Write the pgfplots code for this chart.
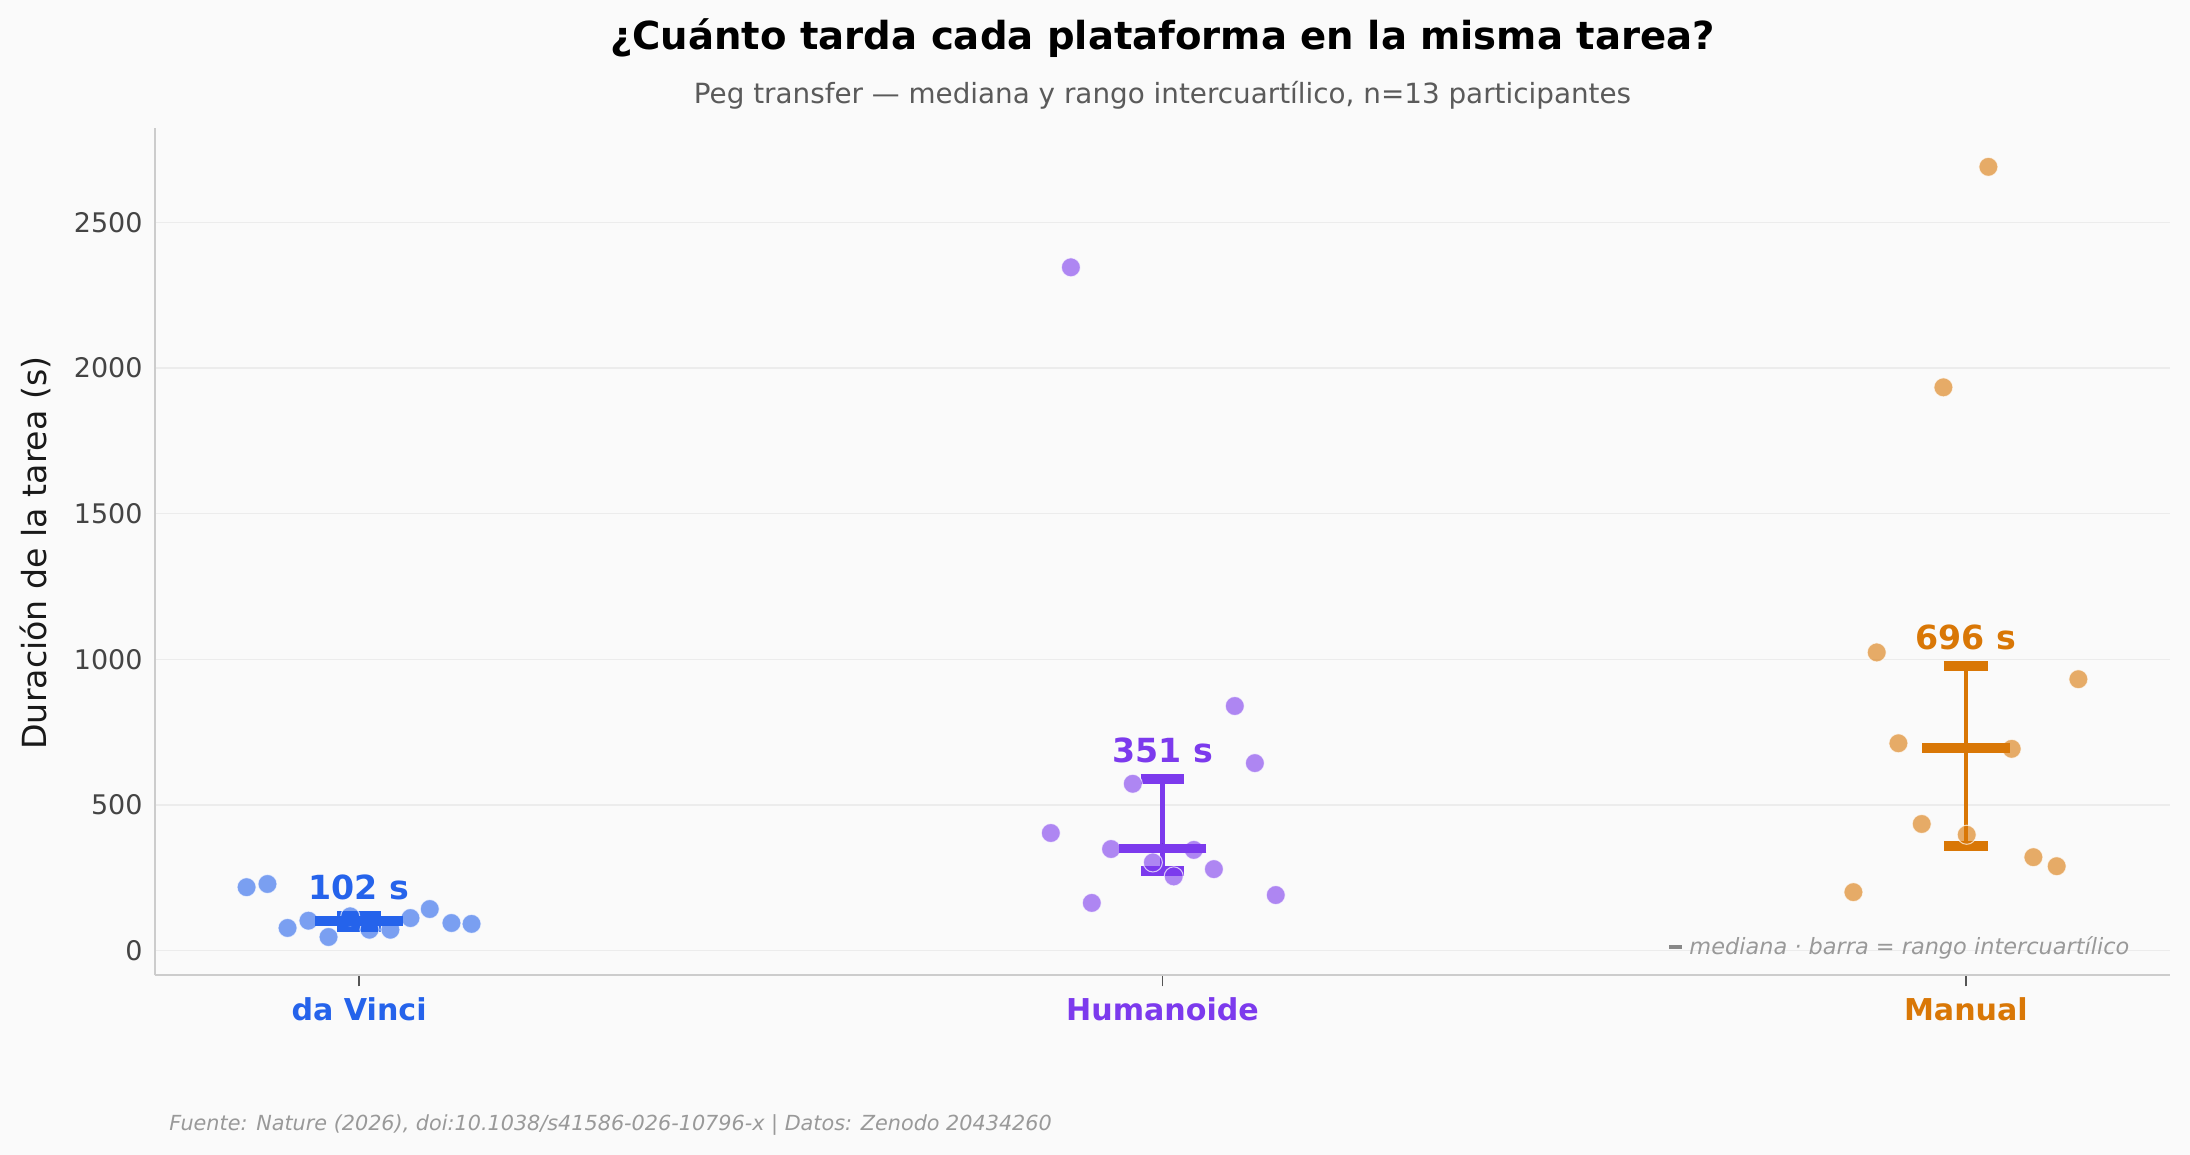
\documentclass[border=0pt]{standalone}
\usepackage{pgfplots}
\pgfplotsset{compat=1.18}
\usepackage{fontspec}
\setmainfont{DejaVu Sans}
\definecolor{dv}{HTML}{2563EB}
\definecolor{hu}{HTML}{7C3AED}
\definecolor{ma}{HTML}{D97706}
\definecolor{bgc}{HTML}{FAFAFA}
\definecolor{spine}{HTML}{CCCCCC}
\definecolor{gridc}{HTML}{ECECEC}
\definecolor{tickt}{HTML}{444444}
\definecolor{tickc}{HTML}{555555}
\definecolor{subc}{HTML}{5A5A5A}
\definecolor{footc}{HTML}{999999}
\begin{document}
\begin{tikzpicture}
\useasboundingbox (0,0) rectangle (14.6in,7.7in);
\fill[bgc] (0,0) rectangle (14.6in,7.7in);
\begin{axis}[
  at={(1.0333in,1.197in)}, anchor=south west,
  scale only axis, width=13.433in, height=5.647in,
  xmin=-0.254, xmax=2.254, ymin=-85, ymax=2823,
  axis x line*=bottom, axis y line*=left,
  axis line style={draw=spine, line width=1pt, -},
  xtick={0,1,2},
  xticklabels={\textcolor{dv}{da Vinci},\textcolor{hu}{Humanoide},\textcolor{ma}{Manual}},
  ytick={0,500,1000,1500,2000,2500},
  yticklabels={0,500,1000,1500,2000,2500},
  ymajorgrids, grid style={draw=gridc, line width=0.6pt},
  tick align=outside, major tick length=5.3pt,
  ytick style={draw=none},
  xtick style={draw=tickc, line width=0.8pt},
  tick label style={text=tickt},
  xticklabel style={anchor=base, inner sep=0pt, yshift=-16.5pt, font=\fontsize{14.5}{17}\selectfont\bfseries},
  yticklabel style={anchor=east, inner sep=0pt, xshift=-0.5pt, font=\fontsize{13}{15}\selectfont},
  /pgf/number format/assume math mode=true,
  clip=false,
]
% individual participants
\addplot[only marks, mark=*, mark size=4.6pt, mark options={fill=dv, fill opacity=0.6, draw=white, draw opacity=0.7, line width=0.5pt}] table {
x y
-0.140 218
-0.114 229
-0.089 78
-0.063 103
-0.038 47
-0.011 118
0.013 72
0.039 72
0.064 112
0.088 143
0.115 95
0.140 92
};
\addplot[only marks, mark=*, mark size=4.6pt, mark options={fill=hu, fill opacity=0.6, draw=white, draw opacity=0.7, line width=0.5pt}] table {
x y
0.861 404
0.886 2346
0.912 164
0.936 349
0.963 573
0.988 303
1.014 255
1.039 346
1.064 280
1.090 840
1.115 644
1.141 191
};
\addplot[only marks, mark=*, mark size=4.6pt, mark options={fill=ma, fill opacity=0.6, draw=white, draw opacity=0.7, line width=0.5pt}] table {
x y
1.860 201
1.889 1024
1.916 712
1.945 435
1.972 1934
2.001 398
2.028 2691
2.057 693
2.084 321
2.113 290
2.140 932
};
% IQR bars
\addplot[only marks, mark=none, error bars/.cd, y dir=both, y explicit,
  error bar style={draw=dv, line width=2.25pt},
  error mark options={draw=dv, rotate=90, mark size=10.56pt, line width=4.8pt}]
  table[x=x, y=y, y error plus=ep, y error minus=em] {
x y ep em
0 102 18 22
};
\addplot[only marks, mark=none, error bars/.cd, y dir=both, y explicit,
  error bar style={draw=hu, line width=2.25pt},
  error mark options={draw=hu, rotate=90, mark size=10.56pt, line width=4.8pt}]
  table[x=x, y=y, y error plus=ep, y error minus=em] {
x y ep em
1 351 239 76
};
\addplot[only marks, mark=none, error bars/.cd, y dir=both, y explicit,
  error bar style={draw=ma, line width=2.25pt},
  error mark options={draw=ma, rotate=90, mark size=10.56pt, line width=4.8pt}]
  table[x=x, y=y, y error plus=ep, y error minus=em] {
x y ep em
2 696 282 335
};
% medians
\addplot[only marks, mark=-, mark size=21.1pt, mark options={draw=dv, line width=4.5pt}] coordinates {(0,102)};
\addplot[only marks, mark=-, mark size=21.1pt, mark options={draw=hu, line width=4.5pt}] coordinates {(1,351)};
\addplot[only marks, mark=-, mark size=21.1pt, mark options={draw=ma, line width=4.5pt}] coordinates {(2,696)};
% value labels
\node[anchor=base, inner sep=0pt, yshift=7.7pt, text=dv, font=\fontsize{16}{19}\selectfont\bfseries] at (axis cs:0,120) {102 s};
\node[anchor=base, inner sep=0pt, yshift=7.7pt, text=hu, font=\fontsize{16}{19}\selectfont\bfseries] at (axis cs:1,590) {351 s};
\node[anchor=base, inner sep=0pt, yshift=7.7pt, text=ma, font=\fontsize{16}{19}\selectfont\bfseries] at (axis cs:2,978) {696 s};
% note
\node[anchor=base east, inner sep=0pt, text=footc, font=\fontsize{10.8}{13}\selectfont] at (axis description cs:0.98,0.025) {\textcolor{tickc!70}{\rule[2.6pt]{6.3pt}{1.7pt}}\ \itshape mediana · barra = rango intercuartílico};
\end{axis}
\node[anchor=base, inner sep=0pt, font=\fontsize{18.6}{22}\selectfont\bfseries] at (7.75in,7.367in) {¿Cuánto tarda cada plataforma en la misma tarea?};
\node[anchor=base, inner sep=0pt, text=subc, font=\fontsize{13.4}{16}\selectfont] at (7.75in,7.007in) {Peg transfer — mediana y rango intercuartílico, n=13 participantes};
\node[rotate=90, inner sep=0pt, text=black!90, font=\fontsize{16}{19}\selectfont] at (0.233in,4.013in) {Duración de la tarea (s)};
\node[anchor=base west, inner sep=0pt, text=footc, font=\fontsize{10}{12}\selectfont\itshape] at (1.127in,0.162in) {Fuente: Nature (2026), doi:10.1038/s41586-026-10796-x | Datos: Zenodo 20434260};
\end{tikzpicture}
\end{document}
